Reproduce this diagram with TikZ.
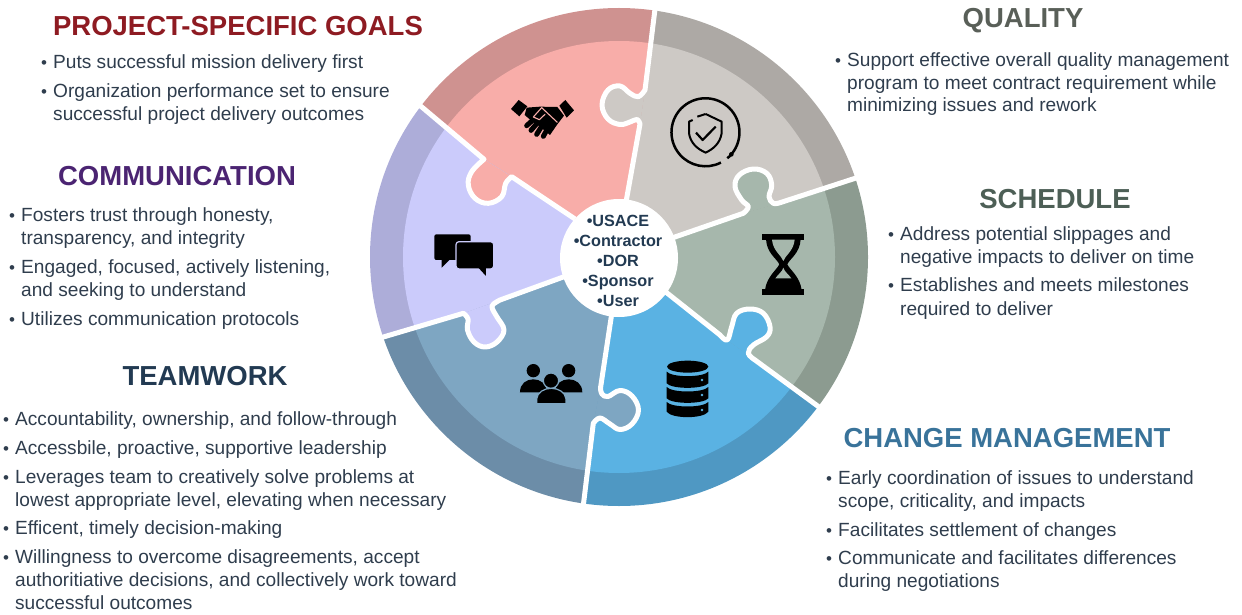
\documentclass[tikz,border=0pt]{standalone}
\usepackage{fontspec}
\setmainfont{Liberation Sans}
\definecolor{bodytxt}{HTML}{2F3D4D}
\definecolor{rD}{HTML}{CF9290}\definecolor{rL}{HTML}{F8ADA9}
\definecolor{gD}{HTML}{ADA9A5}\definecolor{gL}{HTML}{CDC9C5}
\definecolor{sD}{HTML}{8C9B90}\definecolor{sL}{HTML}{A6B7AC}
\definecolor{bD}{HTML}{4F98C3}\definecolor{bL}{HTML}{5AB2E3}
\definecolor{tD}{HTML}{6C8DA8}\definecolor{tL}{HTML}{7EA6C2}
\definecolor{lD}{HTML}{ADADD9}\definecolor{lL}{HTML}{CBCBFB}
\definecolor{tRed}{HTML}{8E1B22}\definecolor{tPur}{HTML}{4B2472}
\definecolor{tGry}{HTML}{595F58}\definecolor{tGrn}{HTML}{4D5F56}
\definecolor{tBlu}{HTML}{39739A}\definecolor{tNav}{HTML}{223A52}
\tikzset{
 bodyline/.style={inner sep=0pt,anchor=base west,text=bodytxt,font=\fontsize{19.1}{22}\selectfont},
 bulletmark/.style={inner sep=0pt,anchor=base west,text=bodytxt,font=\fontsize{17}{22}\selectfont},
 headline/.style={inner sep=0pt,anchor=base,font=\fontsize{27.5}{30}\selectfont\bfseries},
 hubline/.style={inner sep=0pt,anchor=base,text=tNav,font=\fontsize{16.2}{20}\selectfont\bfseries},
 seam/.style={draw=white,line width=5pt,line join=round},
}
\newcommand{\bitem}[4]{\node[bulletmark] (#1b) at (#2-12,#3) {•};\node[bodyline] (#1) at (#2,#3) {#4};}
\newcommand{\contline}[4]{\node[bodyline] (#1) at (#2,#3) {#4};}
\newcommand{\piece}[3]{\begin{scope}\clip #1 -- cycle;\fill[#2] (619,257) circle (249);\fill[#3] (619,257) circle (216);\end{scope}}
\newcommand{\seamtab}[4]{\fill[#1] plot[smooth,tension=.65] coordinates{#3} -- cycle;
 \draw[seam] #2 -- plot[smooth,tension=.65] coordinates{#3} -- #4;}
\begin{document}
\begin{tikzpicture}[x=1pt,y=-1pt]
\useasboundingbox (0,0) rectangle (1242,615);
\piece{(619,257)--(572,217)--(511.7,176.7)--(484,159.3)--(421.7,107.3)--(340,40)--(400,-30)--(660,-30)--(655,9.3)--(645,90)--(640,124)--(626.7,196.7)}{rD}{rL}
\piece{(619,257)--(626.7,196.7)--(640,124)--(645,90)--(655,9.3)--(660,-30)--(900,-30)--(900,165)--(853.3,179)--(780,202.7)--(743.3,213.3)--(675,236.7)}{gD}{gL}
\piece{(619,257)--(675,236.7)--(743.3,213.3)--(780,202.7)--(853.3,179)--(900,165)--(900,465)--(816.7,405)--(755,360)--(720,335)--(665,291.7)}{sD}{sL}
\piece{(619,257)--(665,291.7)--(720,335)--(755,360)--(816.7,405)--(900,465)--(900,540)--(575,540)--(583.3,505)--(593.3,423.3)--(600.5,388)--(611.7,315)}{bD}{bL}
\piece{(619,257)--(611.7,315)--(600.5,388)--(593.3,423.3)--(583.3,505)--(575,540)--(340,540)--(340,350)--(383.3,336.7)--(463.3,313.3)--(500,300)--(563.3,276.7)}{tD}{tL}
\piece{(619,257)--(563.3,276.7)--(500,300)--(463.3,313.3)--(383.3,336.7)--(340,350)--(340,40)--(421.7,107.3)--(484,159.3)--(511.7,176.7)--(572,217)}{lD}{lL}
% tabs and seams
\seamtab{rL}{(420,105.5)}{(484,159.3)(471.7,171.7)(468.3,185)(475,198.3)(488.3,203.3)(501.7,196.7)(505.7,183.3)(511.7,176.7)}{(575,219)}
\seamtab{gL}{(655.5,5)}{(645,90)(638.3,96.7)(630,93.3)(620,86)(608,90)(602,105)(608,119)(620,124.5)(630,122)(637,119.5)(640,124)}{(626,202)}
\seamtab{sL}{(856,178)}{(780,202.7)(773.3,203.3)(769,196.7)(771.7,185)(766.7,173.3)(753.3,169)(739.3,175)(735,186.7)(741.7,200)(748.3,206.7)(743.3,213.3)}{(672,238)}
\seamtab{bL}{(819,407)}{(755,360)(748.3,353.3)(753.3,345)(766.7,336.7)(770,326.7)(763.3,313.3)(750,309)(736.7,313.3)(731.7,326.7)(727.3,340)(720,335)}{(662,289)}
\seamtab{tL}{(583,508)}{(593.3,423.3)(600,418)(610,424)(620,429.5)(632,424)(638.5,410)(632,396)(620,390.5)(608,396.5)(602,394)(600.5,388)}{(612,312)}
\seamtab{lL}{(380,338)}{(463.3,313.3)(468,319)(467.5,330)(474,342)(485,347)(497,342)(504,330)(497,317)(492.5,309)(493,304.5)(500,300)}{(566,276)}
\fill[white] (619,258) circle (59);
% hub text
\node[hubline] (h1) at (618,226) {•USACE};
\node[hubline] (h2) at (618,246) {•Contractor};
\node[hubline] (h3) at (618,266) {•DOR};
\node[hubline] (h4) at (618,286) {•Sponsor};
\node[hubline] (h5) at (618,306) {•User};
% handshake
\begin{scope}[shift={(500,85)},x=.3333pt,y=-.3333pt]
\fill[black] (33,72)--(56,45)--(82,64)--(58,94)--cycle;
\fill[black] (178,62)--(196,45)--(222,76)--(200,98)--cycle;
\fill[black] (80,68)--(120,65)--(172,66)--(192,92)--(172,118)--(150,150)--(120,125)--(95,108)--(74,90)--cycle;
\draw[black,line width=5pt,line cap=round] (100,104)--(80,122);
\draw[black,line width=5pt,line cap=round] (112,114)--(93,136);
\draw[black,line width=5pt,line cap=round] (125,124)--(110,148);
\draw[black,line width=5pt,line cap=round] (142,132)--(130,154);
\draw[rL,line width=1.1pt,line cap=round,line join=round] (172,112)--(125,68)--(100,96)--(118,104)--(135,88);
\end{scope}
% shield
\begin{scope}[shift={(620,0)},x=.3333pt,y=-.3333pt]
\draw[black,line width=2.5pt] (322,475) arc (50:-297:102);
\fill[black] (334,463) circle (7);
\draw[black,line width=2pt,line join=round] (257,342)--(305,365)--(305,400) .. controls (300,430) and (280,447) .. (257,458) .. controls (232,447) and (212,430) .. (207,400)--(207,365)--(218,360);
\draw[black,line width=2pt,line join=round] (232,350)--(257,342);
\draw[black,line width=2.2pt,line join=round] (228,398)--(248,420)--(287,380);
\end{scope}
% hourglass
\begin{scope}[shift={(750,225)},x=.3333pt,y=-.3333pt]
\fill[black] (37,28) rectangle (162,44);
\fill[black] (37,193) rectangle (162,210);
\fill[black] (48,42) .. controls (50,85) and (80,100) .. (88,118) .. controls (80,135) and (50,155) .. (45,195) -- (155,195) .. controls (150,155) and (120,135) .. (112,118) .. controls (120,100) and (150,85) .. (152,42) -- cycle;
\fill[sL] (66,44) .. controls (69,78) and (95,92) .. (100,108) .. controls (105,92) and (131,78) .. (134,44) -- cycle;
\fill[sL] (100,128) .. controls (97,140) and (84,148) .. (76,160) -- (124,160) .. controls (116,148) and (103,140) .. (100,128) -- cycle;
\end{scope}
% chat
\begin{scope}[shift={(425,225)},x=.3333pt,y=-.3333pt]
\fill[black,rounded corners=2pt] (28,28) rectangle (137,105);
\fill[black] (50,100)--(50,128)--(78,100)--cycle;
\fill[black,draw=lL,line width=1.2pt,rounded corners=3pt] (93,50) rectangle (206,132);
\fill[black] (160,128)--(183,153)--(183,128)--cycle;
\end{scope}
% people
\begin{scope}[shift={(360,255)},x=.3333pt,y=-.3333pt]
\fill[black] (520,347) circle (20);
\fill[black] (626,347) circle (20);
\fill[black] (480,412) .. controls (480,385) and (500,373) .. (520,373) .. controls (540,373) and (560,385) .. (560,412) -- cycle;
\fill[black] (586,412) .. controls (586,385) and (606,373) .. (626,373) .. controls (646,373) and (667,385) .. (667,412) -- cycle;
\fill[black,draw=tL,line width=1.2pt] (573,377) circle (23);
\fill[black,draw=tL,line width=1.2pt] (530,447) -- (530,432) .. controls (532,412) and (552,400) .. (574,400) .. controls (596,400) and (616,412) .. (618,432) -- (618,447) -- cycle;
\fill[tL] (525,444) rectangle (625,452);
\end{scope}
% database
\begin{scope}[shift={(620,255)},x=.3333pt,y=-.3333pt]
\fill[black] (203,335) ellipse (62 and 18);
\fill[black] (140,350) .. controls (155,368) and (250,368) .. (265,350) -- (265,385) .. controls (250,403) and (155,403) .. (140,385) -- cycle;
\fill[black] (140,396) .. controls (155,414) and (250,414) .. (265,396) -- (265,430) .. controls (250,448) and (155,448) .. (140,430) -- cycle;
\fill[black] (140,441) .. controls (155,459) and (250,459) .. (265,441) -- (265,470) .. controls (250,492) and (155,492) .. (140,470) -- cycle;
\fill[bL] (246,375) circle (4) (246,420) circle (4) (246,465) circle (4);
\end{scope}
% texts
\node[headline,text=tRed] (t1) at (238,36) {PROJECT-SPECIFIC GOALS};
\bitem{a1}{53}{69}{Puts successful mission delivery first}
\bitem{a2}{53}{98}{Organization performance set to ensure}
\contline{a3}{53}{121}{successful project delivery outcomes}
\node[headline,text=tPur] (t2) at (177,185) {COMMUNICATION};
\bitem{c1}{21}{221}{Fosters trust through honesty,}
\contline{c2}{21}{244}{transparency, and integrity}
\bitem{c3}{21}{273}{Engaged, focused, actively listening,}
\contline{c4}{21}{296}{and seeking to understand}
\bitem{c5}{21}{325}{Utilizes communication protocols}
\node[headline,text=tNav] (t3) at (205,385) {TEAMWORK};
\bitem{w1}{15}{425}{Accountability, ownership, and follow-through}
\bitem{w2}{15}{454}{Accessbile, proactive, supportive leadership}
\bitem{w3}{15}{483}{Leverages team to creatively solve problems at}
\contline{w4}{15}{506}{lowest appropriate level, elevating when necessary}
\bitem{w5}{15}{534}{Efficent, timely decision-making}
\bitem{w6}{15}{563}{Willingness to overcome disagreements, accept}
\contline{w7}{15}{586}{authoritiative decisions, and collectively work toward}
\contline{w8}{15}{609}{successful outcomes}
\node[headline,text=tGry] (t4) at (1023,28) {QUALITY};
\bitem{q1}{847}{67}{Support effective overall quality management}
\contline{q2}{847}{90}{program to meet contract requirement while}
\contline{q3}{847}{112}{minimizing issues and rework}
\node[headline,text=tGrn] (t5) at (1055,208) {SCHEDULE};
\bitem{s1}{900}{240}{Address potential slippages and}
\contline{s2}{900}{263}{negative impacts to deliver on time}
\bitem{s3}{900}{291}{Establishes and meets milestones}
\contline{s4}{900}{315}{required to deliver}
\node[headline,text=tBlu] (t6) at (1007,447) {CHANGE MANAGEMENT};
\bitem{m1}{838}{484}{Early coordination of issues to understand}
\contline{m2}{838}{507}{scope, criticality, and impacts}
\bitem{m3}{838}{536}{Facilitates settlement of changes}
\bitem{m4}{838}{564}{Communicate and facilitates differences}
\contline{m5}{838}{587}{during negotiations}
\end{tikzpicture}
\end{document}
